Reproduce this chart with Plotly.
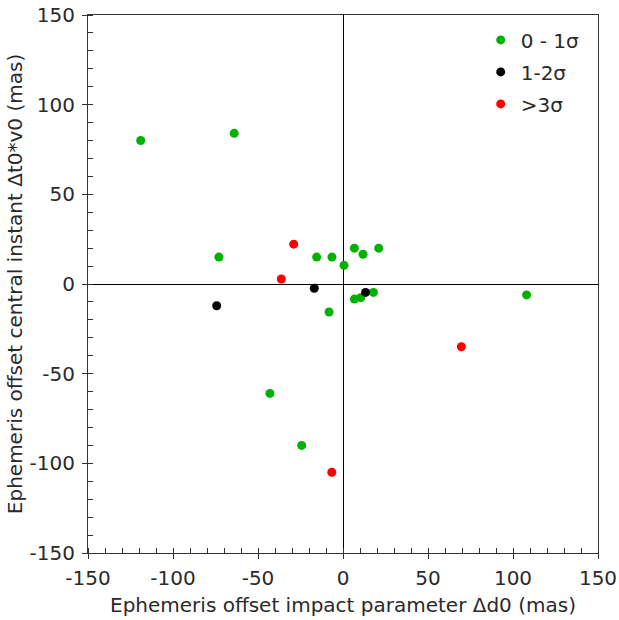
import plotly.graph_objects as go

# 0 - 1 sigma (green)
green_x = [-119, -64, -73, -15.5, -6.5, 0.6, 6.7, 11.8, 21, 6.7, 10.4, 17.9, -8.2, 108, -43, -24.3]
green_y = [80, 84, 15, 15, 15, 10.4, 20, 16.6, 20, -8.4, -7.6, -4.7, -15.6, -6.1, -61, -90]
# 1 - 2 sigma (black)
black_x = [-16.9, -74.3, 13.3]
black_y = [-2.4, -12.1, -4.7]
# > 3 sigma (red)
red_x = [-29, -36.3, 69.6, -6.6]
red_y = [22.2, 2.8, -35, -105]

tick_vals = [-150, -100, -50, 0, 50, 100, 150]
tick_text = ["-150", "-100", "-50", "0", "50", "100", "150"]

series = [
    ("0 - 1σ", green_x, green_y, "rgb(0,178,0)"),
    ("1-2σ", black_x, black_y, "black"),
    (">3σ", red_x, red_y, "rgb(255,0,0)"),
]

font = "DejaVu Sans, Verdana, sans-serif"
txtcol = "#2a2a2a"
fs = 20
fig = go.Figure()
for i, (name, xs, ys, col) in enumerate(series):
    fig.add_trace(go.Scatter(
        x=xs, y=ys, mode="markers", name=name, legendgroup=str(i),
        marker=dict(color=col, size=9, line=dict(width=0)),
    ))
# empty helper trace so the overlay axes (inner half of major ticks) are drawn
fig.add_trace(go.Scatter(x=[], y=[], xaxis="x2", yaxis="y2", showlegend=False, hoverinfo="skip"))

axis_common = dict(
    range=[-150, 150], tickmode="array", tickvals=tick_vals, ticktext=tick_text,
    ticks="outside", ticklen=5, tickcolor="#333", tickwidth=1,
    minor=dict(dtick=10, tick0=0, ticks="inside", ticklen=5, tickcolor="#333", tickwidth=1),
    showgrid=False, zeroline=True, zerolinecolor="black", zerolinewidth=1.2,
    showline=True, linecolor="#333", linewidth=1.2, mirror=True,
    tickfont=dict(size=fs, color=txtcol, family=font),
    title_font=dict(size=fs, color=txtcol, family=font),
    automargin=False, ticklabeloverflow="allow",
)
overlay_common = dict(
    range=[-150, 150], tickmode="array", tickvals=tick_vals,
    ticks="inside", ticklen=5, tickcolor="#333", tickwidth=1,
    showticklabels=False, showgrid=False, zeroline=False, showline=False,
    automargin=False,
)

fig.update_layout(
    width=619, height=620,
    paper_bgcolor="white", plot_bgcolor="white",
    margin=dict(l=88, r=21, t=15, b=67),
    xaxis=dict(**axis_common, ticklabelstandoff=2,
               title=dict(text="Ephemeris offset impact parameter Δd0 (mas)", standoff=8)),
    yaxis=dict(**axis_common, ticklabelstandoff=3,
               title=dict(text="Ephemeris offset central instant Δt0*v0 (mas)", standoff=1)),
    xaxis2=dict(**overlay_common, overlaying="x", anchor="y", side="bottom"),
    yaxis2=dict(**overlay_common, overlaying="y", anchor="x", side="left"),
    legend=dict(x=0.77, y=0.99, xanchor="left", yanchor="top",
                bgcolor="rgba(0,0,0,0)", font=dict(size=fs, color=txtcol, family=font),
                tracegroupgap=3),
    showlegend=True,
)

fig.write_html("out.html", config={"displayModeBar": False},
               post_script="document.body.style.margin='0';")
